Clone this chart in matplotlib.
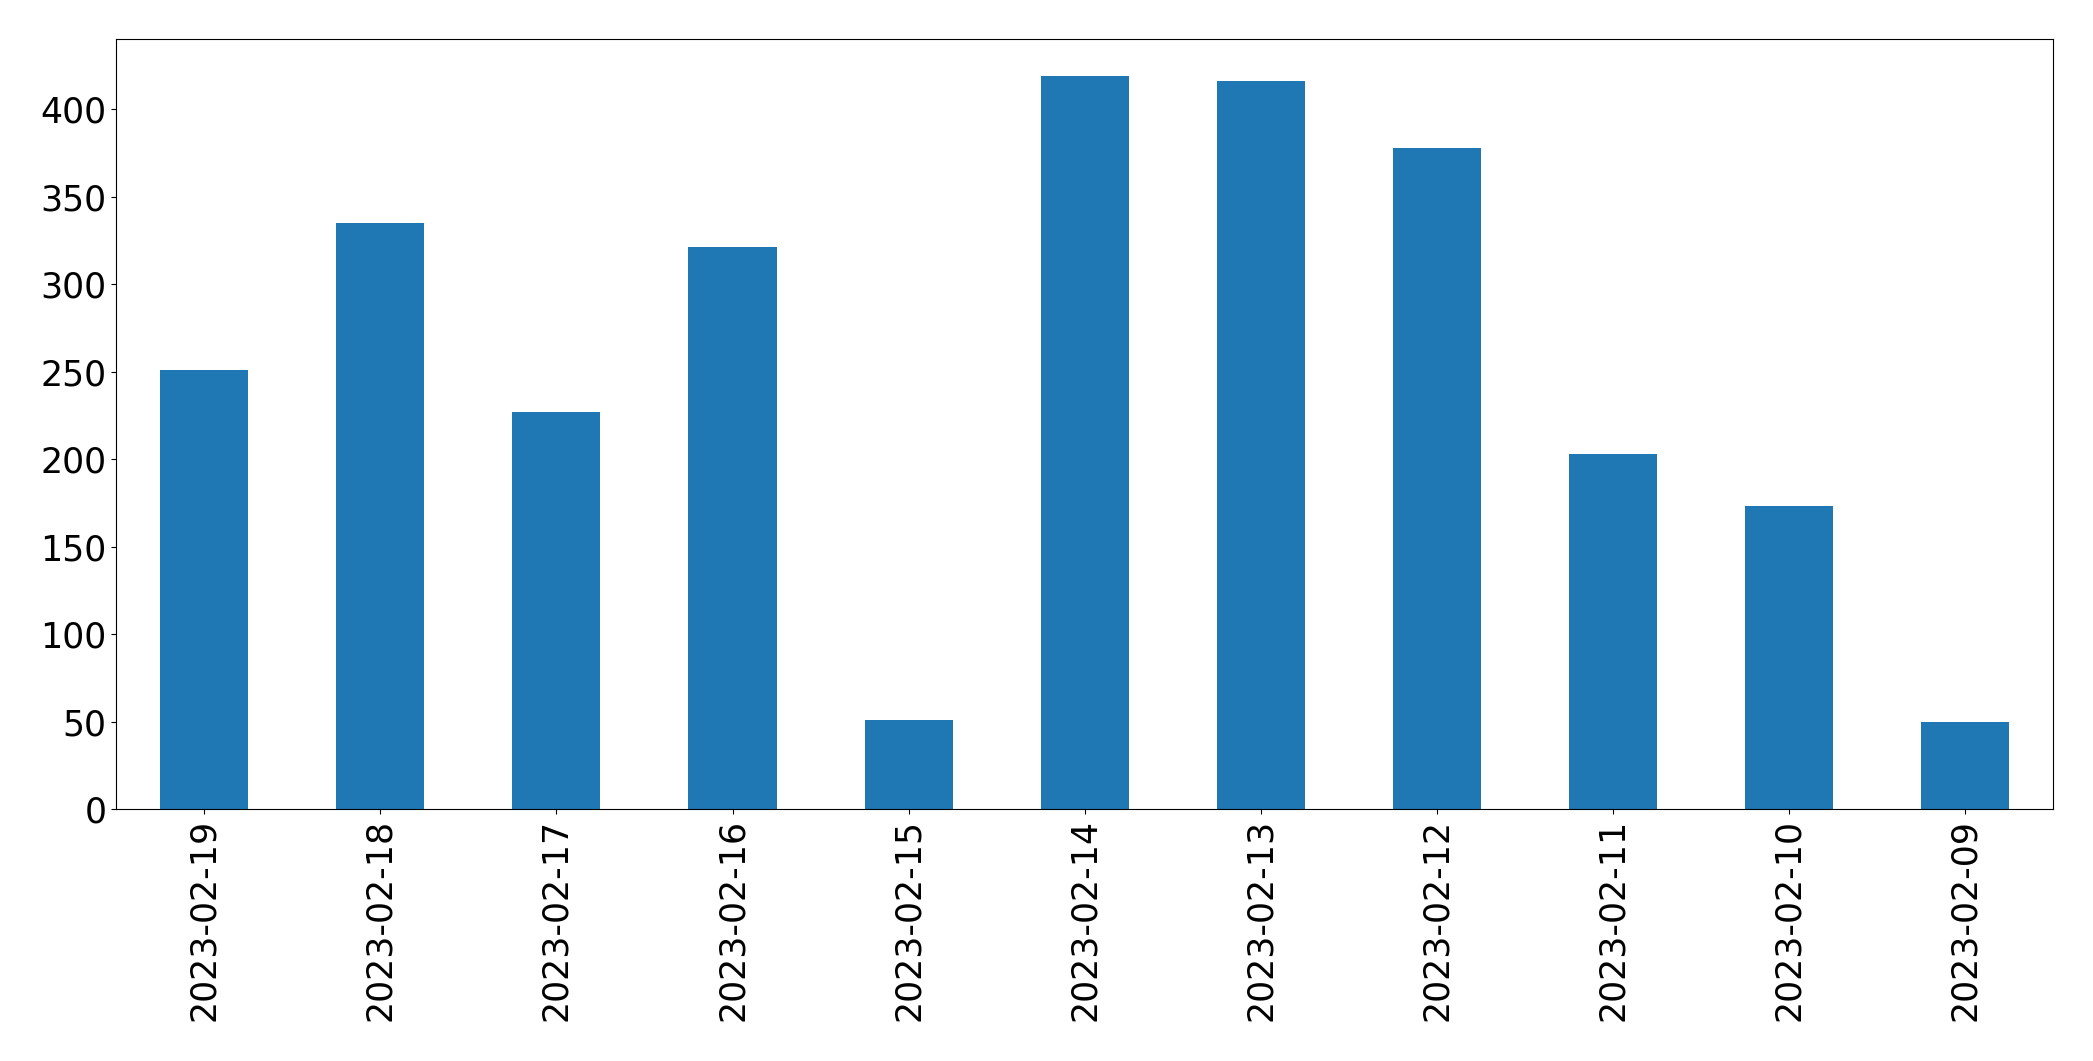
import matplotlib
matplotlib.use("Agg")
import matplotlib.pyplot as plt

dates = ["2023-02-19", "2023-02-18", "2023-02-17", "2023-02-16", "2023-02-15",
         "2023-02-14", "2023-02-13", "2023-02-12", "2023-02-11", "2023-02-10",
         "2023-02-09"]
counts = [251, 335, 227, 321, 51, 419, 416, 378, 203, 173, 50]

fig = plt.figure(figsize=(20.93, 10.61), dpi=100)
ax = fig.add_axes([0.0555, 0.2375, 0.9255, 0.7255])
x = list(range(len(dates)))
ax.bar(x, counts, width=0.5, color="#1f77b4")
ax.set_xlim(-0.5, len(dates) - 0.5)
ax.set_xticks(x)
ax.set_xticklabels(dates, rotation=90)
ax.tick_params(axis="both", labelsize=25)
fig.savefig("out.png", dpi=100)
